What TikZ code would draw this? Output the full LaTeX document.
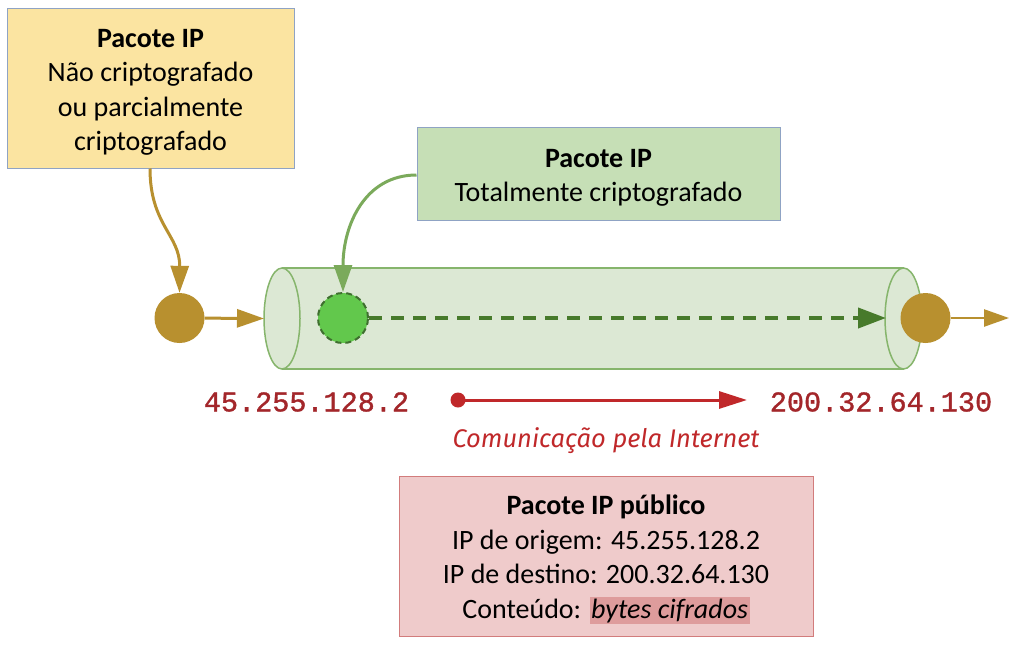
\documentclass[tikz,border=0pt]{standalone}
\usepackage{fontspec}
\setmainfont{Carlito}
\newfontfamily\ipfont[FakeBold=1.2]{Liberation Mono}
\newfontfamily\itfont{Fira Sans}
\usetikzlibrary{arrows.meta}
\definecolor{ybfill}{HTML}{FBE4A1}
\definecolor{boxline}{HTML}{8FA3C4}
\definecolor{gbfill}{HTML}{C6DFB6}
\definecolor{rbfill}{HTML}{EFCBCB}
\definecolor{rbline}{HTML}{D27C7C}
\definecolor{hlcol}{HTML}{DE9C9C}
\definecolor{tubefill}{HTML}{DCE8D4}
\definecolor{tubeline}{HTML}{86B56C}
\definecolor{brown}{HTML}{B8902F}
\definecolor{gdot}{HTML}{62C84C}
\definecolor{gdash}{HTML}{3F6F2F}
\definecolor{garrow}{HTML}{477A2B}
\definecolor{gcurve}{HTML}{7BAA5B}
\definecolor{redarr}{HTML}{C0282A}
\definecolor{iptext}{HTML}{A3262A}
\newcommand{\topstrut}{\rule{0pt}{27pt}}
\begin{document}
\begin{tikzpicture}[x=1pt,y=-1pt,
  box/.style={draw=boxline, line width=1pt, align=center, inner sep=0pt,
    font=\fontsize{28}{34.5}\selectfont},
  packet/.style={circle, minimum size=50pt, inner sep=0pt},
  iplabel/.style={font=\ipfont\fontsize{28.5}{30}\selectfont, text=iptext, inner sep=0pt},
  brownarrow/.style={draw=brown, line width=3pt, -{Triangle[length=27pt,width=18pt]}, brown},
]
\useasboundingbox (0,0) rectangle (1024,653);
\fill[white] (0,0) rectangle (1024,653);

% boxes
\node[box, fill=ybfill, minimum width=287pt, minimum height=160pt] (yb) at (150.5,88)
  {\topstrut\textbf{Pacote IP}\\Não criptografado\\ou parcialmente\\criptografado};
\node[box, fill=gbfill, minimum width=363pt, minimum height=93pt] (gb) at (598.5,173.5)
  {\topstrut\textbf{Pacote IP}\\Totalmente criptografado};
\node[box, draw=rbline, fill=rbfill, minimum width=414pt, minimum height=160pt] (rb) at (606,556)
  {\topstrut\textbf{Pacote IP público}\\IP de origem: 45.255.128.2\\IP de destino: 200.32.64.130\\
   Conteúdo: {\setlength{\fboxsep}{1.5pt}\colorbox{hlcol}{\textit{bytes cifrados}}}};

% tube
\fill[tubefill] (282,268) -- (903.5,268) arc[start angle=-90, end angle=90, x radius=18.5, y radius=50.5]
  -- (282,369) arc[start angle=90, end angle=270, x radius=18, y radius=50.5] -- cycle;
\draw[tubeline, line width=1.5pt] (282,268) -- (903.5,268) (282,369) -- (903.5,369);
\draw[tubeline, line width=1.5pt] (282,318.5) ellipse[x radius=18, y radius=50.5];
\draw[tubeline, line width=1.5pt] (903.5,318.5) ellipse[x radius=18.5, y radius=50.5];
\coordinate (tubeL) at (264,318.5);

% packets
\node[packet, fill=brown] (pin) at (179.5,318) {};
\node[packet, fill=gdot, draw=gdash, line width=2pt, dash pattern=on 6pt off 4pt] (pg) at (343,318) {};
\node[packet, fill=brown] (pout) at (925.5,318) {};
\coordinate (dashend) at (886,318);
\coordinate (outend) at (1009,318);

% arrows
\draw[brownarrow] (yb.south -| 150,0) .. controls (150,225) and (180,235) .. (pin.north);
\draw[brownarrow] (pin) -- (tubeL);
\draw[gcurve, line width=3pt, -{Triangle[length=27pt,width=18pt]}] (gb.west |- 0,175)
  .. controls (365,175) and (343,225) .. (pg.north);
\draw[garrow, line width=4pt, dash pattern=on 13pt off 9pt, -{Triangle[length=28pt,width=20pt]}] (pg.east) -- (dashend);
\draw[brown, line width=2.5pt, -{Triangle[length=25pt,width=17pt]}] (pout.east) -- (outend);

% IP labels and red arrow
\node[iplabel] (ipa) at (306.5,402) {45.255.128.2};
\node[iplabel] (ipb) at (881,402) {200.32.64.130};
\node[circle, fill=redarr, minimum size=15pt, inner sep=0pt] (rdot) at (458,400) {};
\coordinate (rend) at (747,400);
\draw[redarr, line width=3pt, -{Triangle[length=28pt,width=17pt]}] (rdot.center) -- (rend);
\node[font=\itfont\itshape\fontsize{25.5}{28}\selectfont, text=redarr, inner sep=0pt] (com) at (606,441)
  {Comunicação pela Internet};
\end{tikzpicture}
\end{document}
